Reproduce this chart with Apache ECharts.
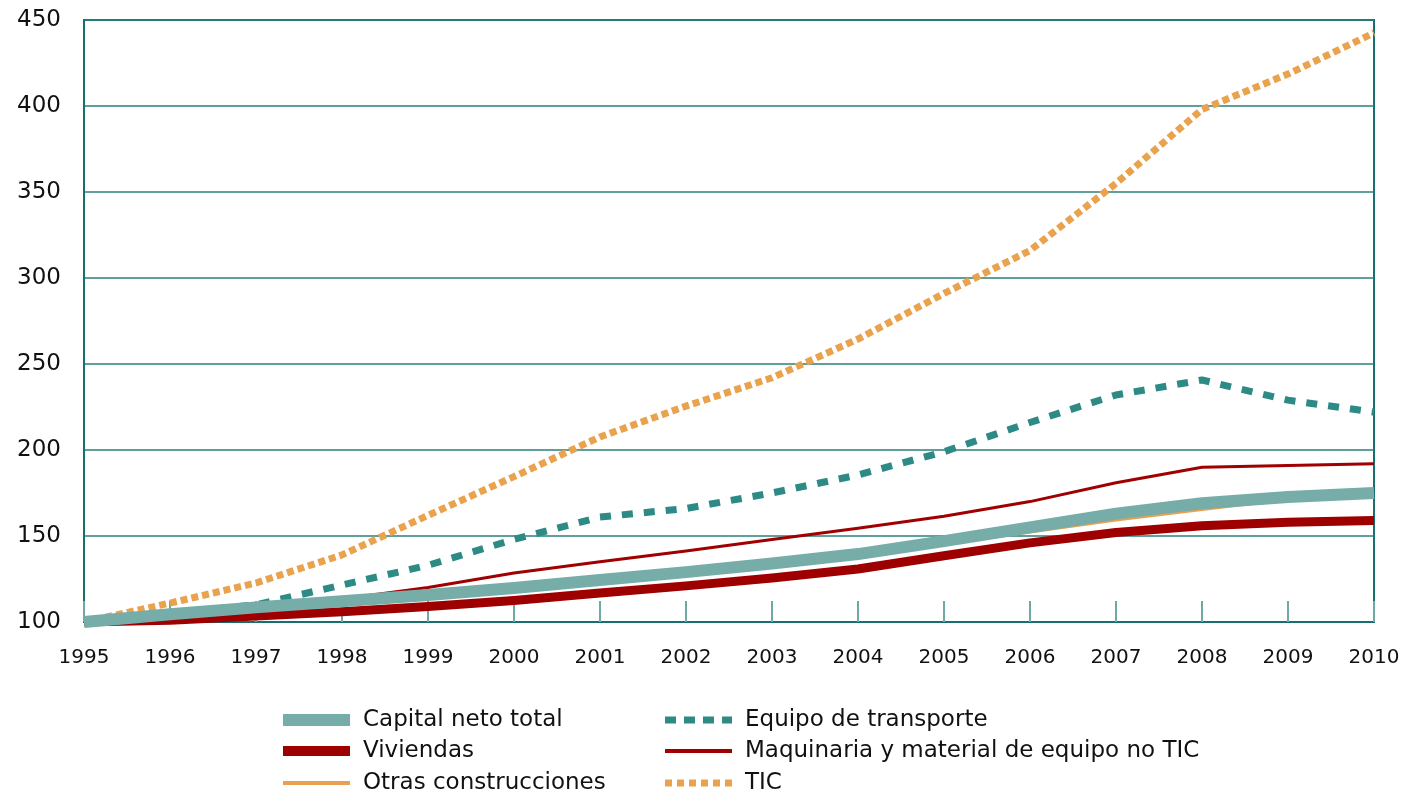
<!DOCTYPE html>
<html>
<head>
<meta charset="utf-8">
<script src="https://cdn.jsdelivr.net/npm/echarts@6/dist/echarts.min.js"></script>
<style>
html,body{margin:0;padding:0;background:#fff;}
#chart{width:1404px;height:791px;}
</style>
</head>
<body>
<div id="chart"></div>
<script>
const years = ['1995','1996','1997','1998','1999','2000','2001','2002','2003','2004','2005','2006','2007','2008','2009','2010'];
const capitalNetoTotal = [100, 104.5, 108.5, 112, 115.7, 119.8, 124.4, 129, 134, 139.5, 147, 155, 163, 169, 172.7, 175];
const viviendas = [100, 101, 103.5, 106, 109, 112.5, 116.8, 121, 125.6, 130.8, 138.5, 146, 152, 156, 158, 159];
const otrasConstrucciones = [100, 104, 108, 111.5, 115, 119, 123.5, 128, 133, 138.5, 145.5, 152.5, 159.5, 165.5, 171.5, 174.5];
const equipoTransporte = [100, 105, 110, 121.5, 133, 148, 161, 166, 175, 185.5, 199, 216, 232, 240.7, 229, 222];
const maquinaria = [100, 103, 108, 113.4, 120, 128.5, 135, 141.3, 148, 154.5, 161.5, 170, 181, 190, 191, 192];
const tic = [100, 111, 122.7, 139, 162, 184.5, 207.6, 225.5, 242, 264.5, 291, 316, 355, 398, 418.6, 442.5];

const names = {
  cap: 'Capital neto total',
  viv: 'Viviendas',
  otr: 'Otras construcciones',
  tra: 'Equipo de transporte',
  maq: 'Maquinaria y material de equipo no TIC',
  tic: 'TIC'
};

const FONT = 'DejaVu Sans';
const chart = echarts.init(document.getElementById('chart'), null, {renderer: 'canvas'});

function line(name, data, color, width, type, z) {
  return {
    name: name, type: 'line', data: data, symbol: 'none', showSymbol: false,
    smooth: false, z: z,
    lineStyle: {color: color, width: width, type: type, cap: 'butt', join: 'round'},
    itemStyle: {color: color},
    emphasis: {disabled: true}
  };
}

// legend icon paths (drawn in a 67 x h box)
const dashPath = 'path://M0,0L11,0L11,7L0,7ZM19,0L30,0L30,7L19,7ZM38,0L49,0L49,7L38,7ZM57,0L67,0L67,7L57,7Z';
const dotPath = 'path://M0,0L7,0L7,7L0,7ZM12,0L19,0L19,7L12,7ZM24,0L31,0L31,7L24,7ZM36,0L43,0L43,7L36,7ZM48,0L55,0L55,7L48,7ZM60,0L67,0L67,7L60,7Z';

function leg(name, left, centerY, icon, h, color) {
  return {
    left: left, top: centerY - 12, orient: 'horizontal',
    itemWidth: 67, itemHeight: h, icon: icon,
    selectedMode: false,
    data: [{name: name, icon: icon, itemStyle: {color: color}}],
    itemStyle: {color: color, borderWidth: 0},
    lineStyle: {width: 0},
    textStyle: {fontFamily: FONT, fontSize: 23, color: '#111', lineHeight: 24, padding: [0, 0, 0, 8]}
  };
}

chart.setOption({
  animation: false,
  backgroundColor: '#ffffff',
  grid: {
    left: 84, right: 30, top: 20, bottom: 169,
    show: true, borderColor: '#17706E', borderWidth: 2, backgroundColor: 'transparent'
  },
  legend: [
    leg(names.cap, 278, 715, 'rect', 12, '#76ADA9'),
    leg(names.viv, 278, 746, 'rect', 10, '#9E0000'),
    leg(names.otr, 278, 778, 'rect', 4, '#E9A050'),
    leg(names.tra, 660, 715, dashPath, 7, '#2E8A84'),
    leg(names.maq, 660, 746, 'rect', 4, '#A00000'),
    leg(names.tic, 660, 778, dotPath, 7, '#E9A24E')
  ],
  xAxis: {
    type: 'category', data: years, boundaryGap: false,
    axisLine: {show: true, lineStyle: {color: '#17706E', width: 2}},
    axisTick: {show: true, inside: true, length: 21, lineStyle: {color: '#6FA9A6', width: 2}},
    axisLabel: {fontFamily: FONT, fontSize: 20, color: '#111', margin: 26},
    splitLine: {show: false}
  },
  yAxis: {
    type: 'value', min: 100, max: 450, interval: 50,
    axisLine: {show: true, lineStyle: {color: '#17706E', width: 2}},
    axisTick: {show: false},
    axisLabel: {fontFamily: FONT, fontSize: 23, color: '#111', margin: 23},
    splitLine: {show: true, lineStyle: {color: '#2A807C', width: 1.5}}
  },
  series: [
    line(names.viv, viviendas, '#9E0000', 9, 'solid', 2),
    line(names.maq, maquinaria, '#A00000', 3, 'solid', 3),
    line(names.otr, otrasConstrucciones, '#E9A050', 3.5, 'solid', 3),
    line(names.tra, equipoTransporte, '#2E8A84', 7, [11, 11], 4),
    line(names.tic, tic, '#E9A24E', 7, [7, 4], 5),
    line(names.cap, capitalNetoTotal, '#76ADA9', 12, 'solid', 6)
  ]
});
</script>
</body>
</html>
